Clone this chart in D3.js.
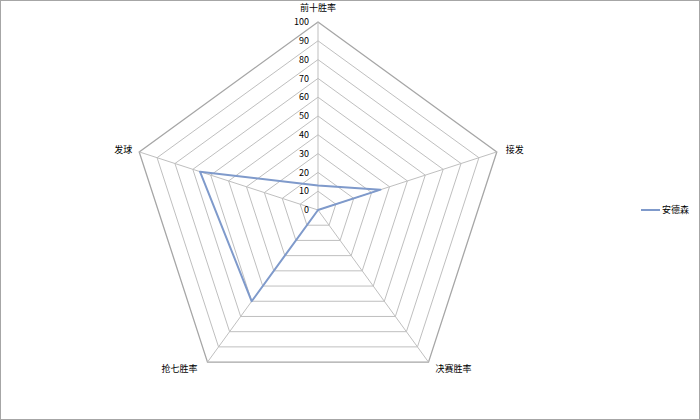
<!DOCTYPE html>
<html>
<head>
<meta charset="utf-8">
<script src="https://cdn.jsdelivr.net/npm/d3@7"></script>
<style>
  body { margin: 0; background: #fff; }
  #radar-chart { width: 700px; height: 420px; }
  .chart-labels { font-family: "Noto Sans CJK SC", "DejaVu Sans", sans-serif; font-size: 9px; fill: #000; }
</style>
</head>
<body>
<div id="radar-chart"></div>
<script>
const categories = ["前十胜率", "接发", "决赛胜率", "抢七胜率", "发球"];
const seriesName = "安德森";
const seriesValues = [13, 35, 0, 60, 66];
const tickValues = [0, 10, 20, 30, 40, 50, 60, 70, 80, 90, 100];

(function () {
  const width = 700;
  const height = 420;
  const cx = 318;
  const cy = 210;
  const radius = 188;

  const svg = d3
    .select("#radar-chart")
    .append("svg")
    .attr("width", width)
    .attr("height", height);

  // chart border
  svg
    .append("rect")
    .attr("x", 0.5)
    .attr("y", 0.5)
    .attr("width", width - 1)
    .attr("height", height - 1)
    .attr("fill", "#fff")
    .attr("stroke", "#a6a6a6");

  const g = svg.append("g").attr("transform", `translate(${cx},${cy})`);

  const r = d3.scaleLinear().domain([0, 100]).range([0, radius]);
  const angle = d3
    .scalePoint()
    .domain(categories)
    .range([0, 2 * Math.PI])
    .padding(0)
    .align(0);
  // scalePoint over full circle: step = 2PI / n
  angle.range([0, 2 * Math.PI * (categories.length - 1) / categories.length]);

  const point = (cat, v) => {
    const a = angle(cat);
    return [r(v) * Math.sin(a), -r(v) * Math.cos(a)];
  };

  // grid rings
  tickValues.forEach((t) => {
    if (t === 0) return;
    g.append("polygon")
      .attr("points", categories.map((c) => point(c, t).join(",")).join(" "))
      .attr("fill", "none")
      .attr("stroke", t === 100 ? "#a6a6a6" : "#bfbfbf")
      .attr("stroke-width", t === 100 ? 1.3 : 1);
  });

  // spokes
  categories.forEach((c) => {
    const [x, y] = point(c, 100);
    g.append("line")
      .attr("x1", 0).attr("y1", 0)
      .attr("x2", x).attr("y2", y)
      .attr("stroke", "#bfbfbf");
  });

  // tick labels along top axis
  g.selectAll(".tick-label")
    .data(tickValues)
    .enter()
    .append("text")
    .attr("class", "chart-labels")
    .attr("x", -9)
    .attr("y", (d) => -r(d))
    .attr("dy", "0.35em")
    .attr("text-anchor", "end")
    .text((d) => d);

  // category labels
  const labelPos = {
    "前十胜率": { dx: 0, dy: -14, anchor: "middle" },
    "接发": { dx: 9, dy: -2, anchor: "start" },
    "决赛胜率": { dx: 7, dy: 7, anchor: "start" },
    "抢七胜率": { dx: -10, dy: 7, anchor: "end" },
    "发球": { dx: -7, dy: -2, anchor: "end" },
  };
  categories.forEach((c) => {
    const [x, y] = point(c, 100);
    const p = labelPos[c];
    g.append("text")
      .attr("class", "chart-labels")
      .attr("x", x + p.dx)
      .attr("y", y + p.dy)
      .attr("dy", "0.35em")
      .attr("text-anchor", p.anchor)
      .text(c);
  });

  // series line
  const data = categories.map((c, i) => ({ cat: c, value: seriesValues[i] }));
  const lineGenerator = d3
    .line()
    .x((d) => point(d.cat, d.value)[0])
    .y((d) => point(d.cat, d.value)[1])
    .curve(d3.curveLinearClosed);

  g.append("path")
    .datum(data)
    .attr("d", lineGenerator)
    .attr("fill", "none")
    .attr("stroke", "#7f9acb")
    .attr("stroke-width", 2)
    .attr("stroke-linejoin", "round");

  // legend
  const legend = svg.append("g").attr("transform", "translate(641,210)");
  legend
    .append("line")
    .attr("x1", 0).attr("x2", 19)
    .attr("y1", 0).attr("y2", 0)
    .attr("stroke", "#7f9acb")
    .attr("stroke-width", 2);
  legend
    .append("text")
    .attr("class", "chart-labels")
    .attr("x", 21)
    .attr("y", 0)
    .attr("dy", "0.35em")
    .text(seriesName);
})();
</script>
</body>
</html>
